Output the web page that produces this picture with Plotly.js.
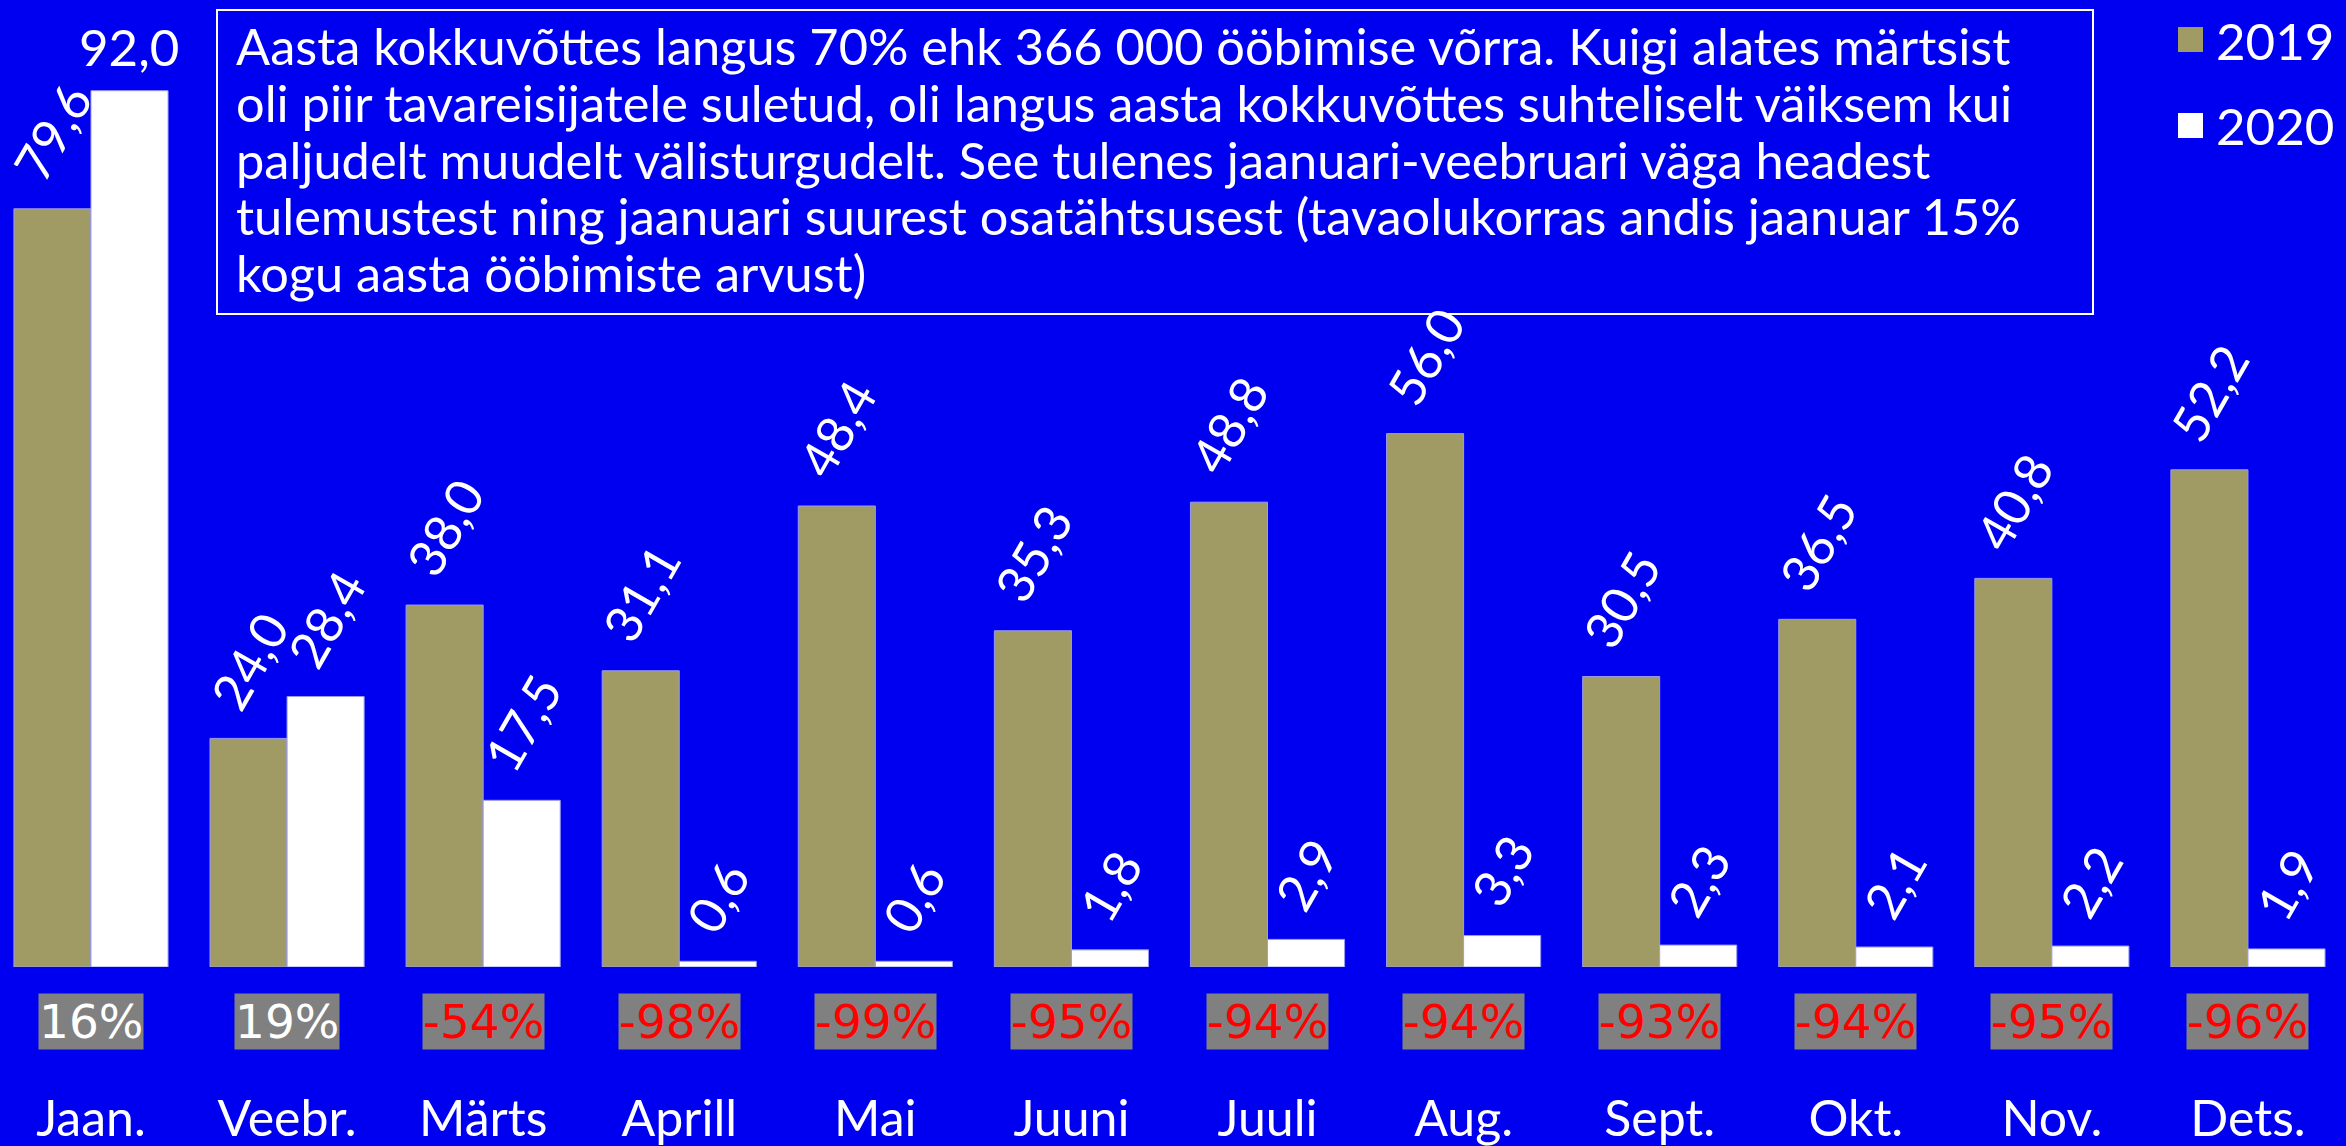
<!DOCTYPE html>
<html>
<head>
<meta charset="utf-8">
<script src="https://cdn.plot.ly/plotly-3.0.1.min.js"></script>
<style>
html,body{margin:0;padding:0;background:#0000F0;}
#chart{width:2346px;height:1146px;}
</style>
</head>
<body>
<div id="chart"></div>
<script>
const months = ['Jaan.','Veebr.','Märts','Aprill','Mai','Juuni','Juuli','Aug.','Sept.','Okt.','Nov.','Dets.'];
const v2019 = [79.6, 24.0, 38.0, 31.1, 48.4, 35.3, 48.8, 56.0, 30.5, 36.5, 40.8, 52.2];
const v2020 = [92.0, 28.4, 17.5, 0.6, 0.6, 1.8, 2.9, 3.3, 2.3, 2.1, 2.2, 1.9];
const changePct = [16, 19, -54, -98, -99, -95, -94, -94, -93, -94, -95, -96];
const seriesNames = ['2019', '2020'];
const noteLines = [
  'Aasta kokkuvõttes langus 70% ehk 366 000 ööbimise võrra. Kuigi alates märtsist',
  'oli piir tavareisijatele suletud, oli langus aasta kokkuvõttes suhteliselt väiksem kui',
  'paljudelt muudelt välisturgudelt. See tulenes jaanuari-veebruari väga headest',
  'tulemustest ning jaanuari suurest osatähtsusest (tavaolukorras andis jaanuar 15%',
  'kogu aasta ööbimiste arvust)'
];

const BG = '#0000F0';
const OLIVE = '#A09B64';
const FONT = 'Lato, "Open Sans", sans-serif';
const BOXFONT = '"DejaVu Sans", sans-serif';
const W = 2346, H = 1146;
const margin = {l: 0, r: 0, t: 0, b: 179};
const plotH = H - margin.t - margin.b;
const barPx = 77;

const series = [v2019, v2020];
const colors = [OLIVE, '#FFFFFF'];

const traces = series.map((vals, s) => ({
  type: 'bar',
  name: seriesNames[s],
  x: months,
  y: vals,
  marker: {color: colors[s], line: {color: '#9a9af5', width: 1}},
  hoverinfo: 'x+y+name',
  showlegend: false
}));

const fmt = v => v.toFixed(1).replace('.', ',');

const annotations = [];
// value labels
series.forEach((vals, s) => {
  vals.forEach((v, i) => {
    const flat = v > 90;
    annotations.push({
      x: months[i], y: v, xref: 'x', yref: 'y',
      xshift: (s === 0 ? -1 : 1) * barPx / 2,
      yshift: flat ? 12 : 16,
      text: fmt(v),
      showarrow: false,
      textangle: flat ? 0 : -60,
      xanchor: 'center', yanchor: 'bottom',
      font: {family: FONT, size: 51, color: '#FFFFFF'}
    });
  });
});
// change percentage boxes
changePct.forEach((p, i) => {
  annotations.push({
    x: months[i], y: 0, xref: 'x', yref: 'y',
    yshift: -54,
    text: p + '%',
    showarrow: false,
    xanchor: 'center', yanchor: 'middle',
    bgcolor: '#808080',
    borderpad: 0,
    font: {family: BOXFONT, size: 47, color: p < 0 ? '#FF0000' : '#FFFFFF'}
  });
});
// note text, one annotation per line
noteLines.forEach((line, k) => {
  annotations.push({
    xref: 'paper', yref: 'paper',
    x: 234 / W, y: (plotH - (46 + 56.5 * k)) / plotH,
    xanchor: 'left', yanchor: 'middle', align: 'left',
    text: line,
    showarrow: false,
    font: {family: FONT, size: 50.5, color: '#FFFFFF'}
  });
});
// legend texts
seriesNames.forEach((n, s) => {
  annotations.push({
    xref: 'paper', yref: 'paper',
    x: 2214 / W, y: (plotH - (40 + s * 86)) / plotH,
    xanchor: 'left', yanchor: 'middle',
    text: n, showarrow: false,
    font: {family: FONT, size: 51, color: '#FFFFFF'}
  });
});

const shapes = [
  {type: 'rect', xref: 'paper', yref: 'paper',
   x0: 217 / W, x1: 2093 / W, y0: (plotH - 314) / plotH, y1: (plotH - 10) / plotH,
   line: {color: '#FFFFFF', width: 2}, fillcolor: 'rgba(0,0,0,0)'}
];
seriesNames.forEach((n, s) => {
  const top = 27 + s * 86;
  shapes.push({type: 'rect', xref: 'paper', yref: 'paper',
    x0: 2178 / W, x1: 2203 / W, y0: (plotH - top - 25) / plotH, y1: (plotH - top) / plotH,
    line: {width: 0}, fillcolor: colors[s]});
});

const layout = {
  width: W, height: H,
  margin: margin,
  paper_bgcolor: BG, plot_bgcolor: BG,
  barmode: 'group', bargap: 0.214, bargroupgap: 0,
  showlegend: false,
  xaxis: {
    type: 'category', range: [-0.464, 11.5],
    showgrid: false, zeroline: false, showline: false,
    ticks: '', ticklabelstandoff: 118,
    tickfont: {family: FONT, size: 50, color: '#FFFFFF'},
    fixedrange: true
  },
  yaxis: {
    range: [0, plotH / 9.525],
    visible: false, showgrid: false, zeroline: false,
    fixedrange: true
  },
  annotations: annotations,
  shapes: shapes
};

Plotly.newPlot('chart', traces, layout, {displayModeBar: false, staticPlot: true});
</script>
</body>
</html>
